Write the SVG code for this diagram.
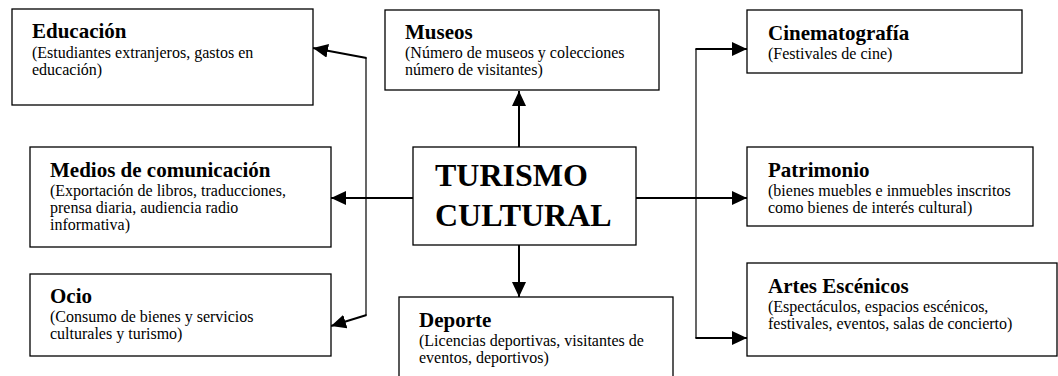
<svg xmlns="http://www.w3.org/2000/svg" width="1058" height="376" viewBox="0 0 1058 376">
<style>
.box{fill:#fff;stroke:#000;stroke-width:1.3}
.t{font-family:"Liberation Serif","Times New Roman",serif;font-weight:bold;font-size:21px;fill:#000}
.s{font-family:"Liberation Serif","Times New Roman",serif;font-size:16px;fill:#000}
.big{font-family:"Liberation Serif","Times New Roman",serif;font-weight:bold;font-size:32px;fill:#000}
.c{stroke:#000;stroke-width:2;fill:none}
.v{stroke:#000;stroke-width:1.2;fill:none}
</style>
<defs>
<marker id="ah" markerUnits="userSpaceOnUse" markerWidth="16" markerHeight="14" refX="15" refY="7" orient="auto">
<path d="M0,0 L15,7 L0,14 z" fill="#000"/>
</marker>
</defs>
<rect width="1058" height="376" fill="#fff"/>
<g id="connectors">
<line class="c" x1="519" y1="147" x2="519" y2="91" marker-end="url(#ah)"/>
<line class="c" x1="519" y1="245" x2="519" y2="297" marker-end="url(#ah)"/>
<line class="c" x1="413" y1="198" x2="331" y2="198" marker-end="url(#ah)"/>
<line class="c" x1="636" y1="198" x2="747" y2="198" marker-end="url(#ah)"/>
<line class="v" x1="696" y1="49" x2="696" y2="338"/>
<line class="c" x1="695.4" y1="49" x2="747" y2="49" marker-end="url(#ah)"/>
<line class="c" x1="695.4" y1="338" x2="747" y2="338" marker-end="url(#ah)"/>
<line class="v" x1="366" y1="58" x2="366" y2="315"/>
<line class="c" x1="366.6" y1="58" x2="313" y2="48" marker-end="url(#ah)"/>
<line class="c" x1="366.6" y1="315" x2="331" y2="326" marker-end="url(#ah)"/>
</g>
<g id="educacion">
<rect class="box" x="12" y="9" width="301" height="96"/>
<text class="t" x="32" y="38">Educación</text>
<text class="s" x="32" y="58">(Estudiantes extranjeros, gastos en</text>
<text class="s" x="32" y="75">educación)</text>
</g>
<g id="museos">
<rect class="box" x="385" y="10" width="274" height="80"/>
<text class="t" x="405" y="39">Museos</text>
<text class="s" x="405" y="58">(Número de museos y colecciones</text>
<text class="s" x="405" y="75">número de visitantes)</text>
</g>
<g id="cinematografia">
<rect class="box" x="747" y="10" width="275" height="63"/>
<text class="t" x="768" y="40">Cinematografía</text>
<text class="s" x="768" y="59">(Festivales de cine)</text>
</g>
<g id="medios">
<rect class="box" x="30" y="147" width="301" height="100"/>
<text class="t" x="50" y="177">Medios de comunicación</text>
<text class="s" x="50" y="196">(Exportación de libros, traducciones,</text>
<text class="s" x="50" y="213">prensa diaria, audiencia radio</text>
<text class="s" x="50" y="230">informativa)</text>
</g>
<g id="turismo">
<rect class="box" x="413" y="147" width="223" height="98"/>
<text class="big" x="435" y="186">TURISMO</text>
<text class="big" x="435" y="226">CULTURAL</text>
</g>
<g id="patrimonio">
<rect class="box" x="747" y="147" width="286" height="79"/>
<text class="t" x="768" y="177">Patrimonio</text>
<text class="s" x="768" y="196">(bienes muebles e inmuebles inscritos</text>
<text class="s" x="768" y="213">como bienes de interés cultural)</text>
</g>
<g id="ocio">
<rect class="box" x="30" y="274" width="301" height="82"/>
<text class="t" x="50" y="303">Ocio</text>
<text class="s" x="50" y="322">(Consumo de bienes y servicios</text>
<text class="s" x="50" y="339">culturales y turismo)</text>
</g>
<g id="deporte">
<rect class="box" x="399" y="297" width="274" height="90"/>
<text class="t" x="419" y="327">Deporte</text>
<text class="s" x="419" y="346">(Licencias deportivas, visitantes de</text>
<text class="s" x="419" y="363">eventos, deportivos)</text>
</g>
<g id="artes">
<rect class="box" x="747" y="263" width="310" height="93"/>
<text class="t" x="768" y="293">Artes Escénicos</text>
<text class="s" x="768" y="312">(Espectáculos, espacios escénicos,</text>
<text class="s" x="768" y="329">festivales, eventos, salas de concierto)</text>
</g>
</svg>
